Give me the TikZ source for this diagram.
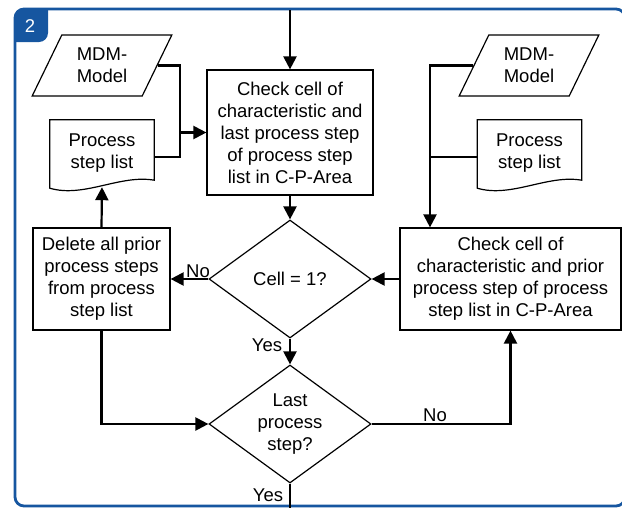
\documentclass[tikz,border=0pt]{standalone}
\usepackage{fontspec}
\setmainfont{Liberation Sans}
\usetikzlibrary{shapes.geometric,arrows.meta}

\definecolor{frameblue}{RGB}{22,86,160}

\newcommand\docoutline[1]{\draw[line width=1.2pt] (#1.north west) -- (#1.north east) -- ([yshift=6pt]#1.south east)
	.. controls ([xshift=-34pt,yshift=12pt]#1.south east) and ([xshift=34pt,yshift=-12pt]#1.south west) .. ([yshift=-2pt]#1.south west) -- cycle;}

\begin{document}
\begin{tikzpicture}[x=1pt,y=-1pt]
	\useasboundingbox (0,0) rectangle (622,507);
	\tikzset{every node/.style={font=\fontsize{18.5}{22}\selectfont, align=center}}
	\tikzset{stepbox/.style={draw, line width=1.2pt, inner sep=0pt}}
	\tikzset{decision/.style={draw, diamond, line width=1.2pt, inner sep=0pt, aspect=1.37, minimum width=162pt, minimum height=118pt}}
	\tikzset{datain/.style={draw, trapezium, trapezium left angle=62, trapezium right angle=118, trapezium stretches=true, line width=1.2pt, inner sep=0pt, minimum width=140pt, minimum height=61pt}}
	\tikzset{docbox/.style={inner sep=0pt, minimum width=104pt, minimum height=66pt}}
	\tikzset{flow/.style={line width=2.2pt, -{Triangle[length=13pt,width=13pt]}}}
	\tikzset{link/.style={line width=2.2pt}}
	\tikzset{lbl/.style={inner sep=0pt}}
	% frame and number tab
	\fill[frameblue] (15,42) [rounded corners=9pt] -- (15,9) [sharp corners] -- (48,9) [rounded corners=9pt] -- (48,42) [sharp corners] -- (15,42) -- cycle;
	\draw[frameblue, line width=2.8pt, rounded corners=9pt] (15,9) rectangle (625,506);
	\node[text=white, font=\fontsize{18.5}{22}\selectfont] (num) at (30,26) {2};
	% steps
	\node[stepbox, minimum width=166pt, minimum height=125pt] (check1) at (290,132.5) {Check cell of\\characteristic and\\last process step\\of process step\\list in C-P-Area};
	\node[stepbox, minimum width=221pt, minimum height=102pt] (check2) at (510.5,279) {Check cell of\\characteristic and prior\\process step of process\\step list in C-P-Area};
	\node[stepbox, minimum width=137pt, minimum height=102pt] (delete) at (101.5,279) {Delete all prior\\process steps\\from process\\step list};
	\node[decision] (cell) at (290,279) {Cell = 1?};
	\node[decision] (last) at (290,424) {Last\\process\\step?};
	% inputs
	\node[datain] (mdmL) at (102,65.5) {MDM-\\Model};
	\node[datain] (mdmR) at (529,65.5) {MDM-\\Model};
	\node[docbox] (plistL) at (102,153) {Process\\step list};
	\node[docbox] (plistR) at (529.5,153) {Process\\step list};
	\docoutline{plistL}
	\docoutline{plistR}
	\coordinate (entry) at (290,10);
	\coordinate (exit) at (290,510);
	\coordinate (joinL) at (180,157);
	\coordinate (joinR) at (430,157);
	% connectors
	\draw[flow] (entry) -- (check1.north);
	\draw[link] (mdmL.east) -| (joinL) -- (joinL -| plistL.east);
	\draw[flow] (joinL |- check1.west) -- (check1.west);
	\draw[link] (joinR -| plistR.west) -- (joinR);
	\draw[flow] (mdmR.west) -| (joinR |- check2.north);
	\draw[flow] (check1.south) -- (cell.north);
	\draw[flow] (check2.west) -- (cell.east);
	\draw[flow] (cell.west) -- (delete.east);
	\draw[flow] (delete.north) -- ([yshift=-1pt]plistL.south);
	\draw[flow] (cell.south) -- (last.north);
	\draw[flow] (delete.south) |- (last.west);
	\draw[flow] (last.east) -| (check2.south);
	\draw[link] (last.south) -- (exit);
	% labels
	\node[lbl] (no1) at (198,271) {No};
	\node[lbl] (yes1) at (267,345) {Yes};
	\node[lbl] (no2) at (435,415) {No};
	\node[lbl] (yes2) at (268,495) {Yes};
\end{tikzpicture}
\end{document}
